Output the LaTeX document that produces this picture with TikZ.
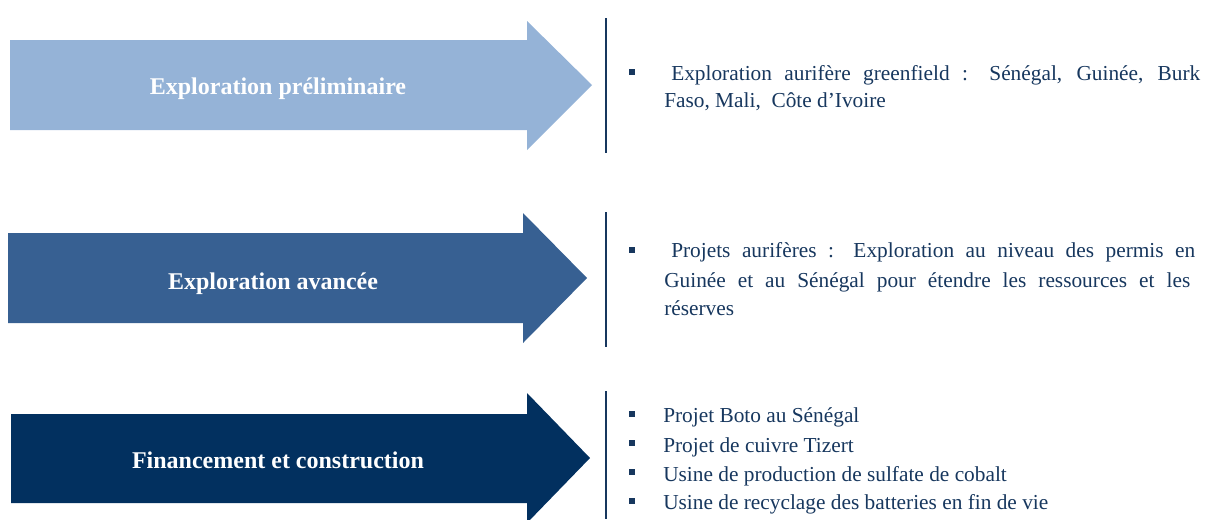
\documentclass[tikz,border=0pt]{standalone}
\usepackage{fontspec}
\setmainfont{Liberation Serif}
\definecolor{lightblue}{HTML}{95B3D7}
\definecolor{midblue}{HTML}{376092}
\definecolor{darkblue}{HTML}{02305F}
\definecolor{navy}{HTML}{17375E}
\begin{document}
\begin{tikzpicture}[x=0.75pt, y=-0.75pt,
  stage/.style={font=\fontsize{18}{20}\selectfont\bfseries, text=white, inner sep=0pt, anchor=base},
  item/.style={font=\fontsize{16}{19}\selectfont, text=navy, anchor=base west, inner sep=0pt},
  bullet/.style={fill=navy, minimum size=5pt, inner sep=0pt},
  divider/.style={navy, line width=2.2pt}]

\useasboundingbox (0,0) rectangle (1205,519);

% stage arrows
\fill[lightblue] (10,40) -- (527,40) -- (527,21) -- (592,85) -- (527,150) -- (527,130) -- (10,130) -- cycle;
\fill[midblue]   (8,233) -- (523,233) -- (523,213) -- (587,278) -- (523,343) -- (523,323) -- (8,323) -- cycle;
\fill[darkblue]  (11,414) -- (527,414) -- (527,393) -- (590,458) -- (527,523) -- (527,503) -- (11,503) -- cycle;

\node[stage] (prelim)   at (278,94)  {Exploration préliminaire};
\node[stage] (advanced) at (273,289) {Exploration avancée};
\node[stage] (funding)  at (278,468) {Financement et construction};

% dividers
\coordinate (d1top) at (606,18);  \coordinate (d1bot) at (606,153);
\coordinate (d2top) at (606,212); \coordinate (d2bot) at (606,347);
\coordinate (d3top) at (606,391); \coordinate (d3bot) at (606,519);
\draw[divider] (d1top) -- (d1bot);
\draw[divider] (d2top) -- (d2bot);
\draw[divider] (d3top) -- (d3bot);

% preliminary
\node[bullet] (b1) at (632,72) {};
\node[item] (green) at (671,80) {\makebox[396.75pt][s]{Exploration aurifère greenfield : Sénégal, Guinée, Burk}};
\node[item] (greenb) at (664,107) {Faso, Mali,\ \ Côte d’Ivoire};

% advanced
\node[bullet] (b2) at (632,250) {};
\node[item] (gold) at (671,257) {\makebox[393pt][s]{Projets aurifères : Exploration au niveau des permis en}};
\node[item] (goldb) at (664,287) {\makebox[394.5pt][s]{Guinée et au Sénégal pour étendre les ressources et les}};
\node[item] (goldc) at (664,315) {réserves};

% funding and construction
\node[bullet] (b3) at (632,414) {};
\node[bullet] (b4) at (632,443) {};
\node[bullet] (b5) at (632,472) {};
\node[bullet] (b6) at (632,501) {};
\node[item] (boto)    at (663,422) {Projet Boto au Sénégal};
\node[item] (tizert)  at (663,452) {Projet de cuivre Tizert};
\node[item] (cobalt)  at (663,481) {Usine de production de sulfate de cobalt};
\node[item] (recycle) at (663,509) {Usine de recyclage des batteries en fin de vie};

\end{tikzpicture}
\end{document}
